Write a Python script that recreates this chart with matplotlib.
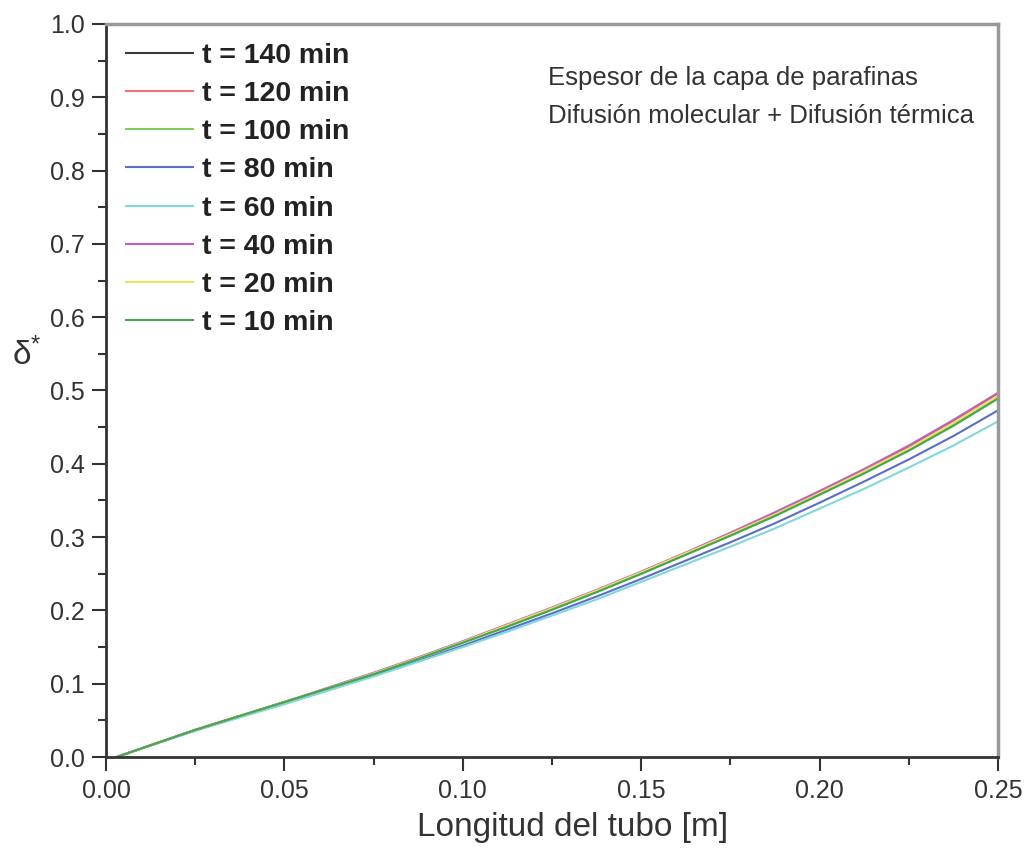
import matplotlib
matplotlib.use("Agg")
import matplotlib.pyplot as plt
from matplotlib.ticker import MultipleLocator, FormatStrFormatter

plt.rcParams['font.family'] = ['Liberation Sans', 'DejaVu Sans']
plt.rcParams['mathtext.default'] = 'regular'

x = [0.003, 0.0125, 0.025, 0.0375, 0.05, 0.0625, 0.075, 0.0875, 0.10, 0.1125, 0.125,
     0.1375, 0.15, 0.1625, 0.175, 0.1875, 0.20, 0.2125, 0.225, 0.2375, 0.25]
labels = ["t = 140 min", "t = 120 min", "t = 100 min", "t = 80 min",
          "t = 60 min", "t = 40 min", "t = 20 min", "t = 10 min"]
colors = ["#3a3a3a", "#f07070", "#80cc60", "#5a6ccc", "#80d8d8", "#c060c0", "#f0e060", "#40a850"]
y140 = [0, 0.016, 0.037, 0.056, 0.075, 0.094, 0.114, 0.135, 0.157, 0.180, 0.203,
        0.227, 0.252, 0.278, 0.305, 0.332, 0.361, 0.391, 0.423, 0.458, 0.495]
y120 = [0, 0.016, 0.037, 0.056, 0.075, 0.094, 0.114, 0.135, 0.157, 0.180, 0.203,
        0.227, 0.252, 0.278, 0.304, 0.332, 0.360, 0.390, 0.422, 0.457, 0.494]
y100 = [0, 0.016, 0.037, 0.056, 0.075, 0.094, 0.113, 0.134, 0.156, 0.178, 0.201,
        0.225, 0.250, 0.276, 0.302, 0.329, 0.358, 0.388, 0.419, 0.453, 0.490]
y80 = [0, 0.016, 0.036, 0.055, 0.073, 0.092, 0.111, 0.131, 0.152, 0.174, 0.196,
       0.219, 0.243, 0.268, 0.293, 0.319, 0.347, 0.376, 0.406, 0.438, 0.473]
y60 = [0, 0.016, 0.036, 0.054, 0.072, 0.091, 0.110, 0.130, 0.150, 0.171, 0.193,
       0.215, 0.239, 0.263, 0.287, 0.312, 0.339, 0.366, 0.395, 0.425, 0.458]
y40 = [0, 0.016, 0.037, 0.056, 0.075, 0.095, 0.115, 0.136, 0.158, 0.181, 0.204,
       0.228, 0.253, 0.279, 0.306, 0.334, 0.363, 0.393, 0.425, 0.460, 0.497]
y20 = [0, 0.016, 0.037, 0.056, 0.075, 0.094, 0.114, 0.135, 0.157, 0.180, 0.203,
       0.227, 0.252, 0.278, 0.304, 0.331, 0.360, 0.390, 0.421, 0.456, 0.493]
y10 = [0, 0.016, 0.037, 0.056, 0.075, 0.094, 0.113, 0.134, 0.156, 0.178, 0.201,
       0.225, 0.250, 0.276, 0.302, 0.329, 0.358, 0.387, 0.418, 0.452, 0.489]
series = [y140, y120, y100, y80, y60, y40, y20, y10]

fig = plt.figure(figsize=(10.29, 8.5), dpi=100)
ax = fig.add_axes([0.103, 0.1094, 0.867, 0.8624])

for ys, lab, c in zip(series, labels, colors):
    ax.plot(x, ys, color=c, lw=1.5, label=lab)

ax.set_xlim(0, 0.25)
ax.set_ylim(0, 1.0)
ax.xaxis.set_major_locator(MultipleLocator(0.05))
ax.xaxis.set_minor_locator(MultipleLocator(0.025))
ax.yaxis.set_major_locator(MultipleLocator(0.1))
ax.yaxis.set_minor_locator(MultipleLocator(0.05))
ax.xaxis.set_major_formatter(FormatStrFormatter('%.2f'))
ax.yaxis.set_major_formatter(FormatStrFormatter('%.1f'))
ax.tick_params(axis='both', which='major', direction='out', length=10, width=1.5,
               labelsize=18, colors='#333333')
ax.tick_params(axis='x', which='major', pad=6)
ax.tick_params(axis='y', which='major', pad=5)
ax.tick_params(axis='both', which='minor', direction='out', length=5.5, width=1.5, colors='#333333')
for s in ['left', 'bottom']:
    ax.spines[s].set_linewidth(2)
    ax.spines[s].set_color('#333333')
for s in ['top', 'right']:
    ax.spines[s].set_linewidth(2.5)
    ax.spines[s].set_color('#999999')

ax.set_xlabel("Longitud del tubo [m]", fontsize=24, color='#333333', labelpad=5)
ax.xaxis.set_label_coords(0.5235, -0.075)
fig.text(0.012, 0.582, r"$\delta^{*}$", fontsize=24, color='#333333', ha='left', va='center')

leg = ax.legend(loc='upper left', frameon=False, prop={'weight': 'bold', 'size': 20.5},
                handlelength=2.35, labelspacing=0.43, borderaxespad=0, borderpad=0,
                handletextpad=0.32, bbox_to_anchor=(0.0224, 0.9745))
for t in leg.get_texts():
    t.set_color('#222222')

ax.text(0.496, 0.900, "Espesor de la capa de parafinas\nDifusión molecular + Difusión térmica",
        transform=ax.transAxes, fontsize=18.5, color='#333333', ha='left', va='center',
        linespacing=1.75)

fig.savefig("out.png", dpi=100)
